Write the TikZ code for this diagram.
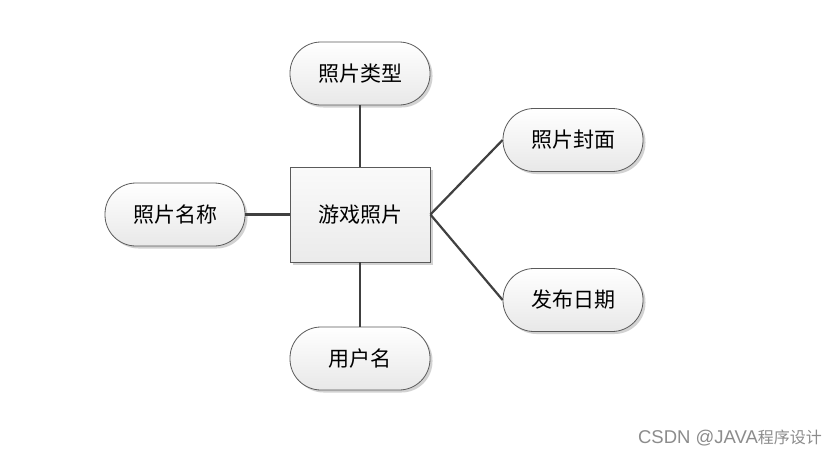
\documentclass[tikz,border=0pt]{standalone}
\usepackage{fontspec}
\newfontfamily\cjk{Noto Sans CJK SC}
\newfontfamily\wmfont{Liberation Sans}
\usetikzlibrary{shadows}
\definecolor{edgegray}{HTML}{404040}
\definecolor{bordergray}{HTML}{5A5A5A}
\begin{document}
\begin{tikzpicture}[x=1pt,y=-1pt,
  shapebase/.style={draw=bordergray, line width=0.8pt, inner sep=0pt,
    top color=white, bottom color=black!9,
    drop shadow={shadow xshift=2.5pt, shadow yshift=-2.5pt, fill=black!35, opacity=0.5},
    font=\cjk\fontsize{21}{24}\selectfont},
  pill/.style={shapebase, rounded corners=31pt, minimum width=140pt, minimum height=63pt},
  entity/.style={shapebase, minimum width=140pt, minimum height=95pt, top color=black!2, bottom color=black!8},
  link/.style={draw=edgegray, line width=2.2pt}
]
\fill[white] (0,0) rectangle (840,458);
\useasboundingbox (0,0) rectangle (840,458);

\node[entity] (main) at (360,214.5) {游戏照片};
\node[pill] (top) at (360,73.5) {照片类型};
\node[pill] (left) at (175,214.5) {照片名称};
\node[pill] (bottom) at (360,358.5) {用户名};
\node[pill] (rt) at (573,140) {照片封面};
\node[pill] (rb) at (573,300) {发布日期};

\draw[link] (top.south) -- (main.north);
\draw[link] (left.east) -- (main.west);
\draw[link] (main.south) -- (bottom.north);
\draw[link] (main.east) -- (rt.west);
\draw[link] (main.east) -- (rb.west);

\node[text=black!45, inner sep=0pt] (wm) at (730,438)
  {\wmfont\fontsize{18.5}{21}\selectfont CSDN @JAVA{\cjk\fontsize{16}{19}\selectfont 程序设计}};
\end{tikzpicture}
\end{document}
